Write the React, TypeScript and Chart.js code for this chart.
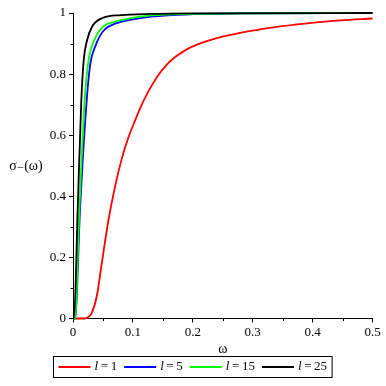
import React, { useEffect, useRef } from "react";
import { Chart, registerables } from "chart.js";

Chart.register(...registerables);

// ---- data ----
const redOmega = [0, 0.01, 0.02, 0.025, 0.031, 0.0396, 0.048, 0.059, 0.07, 0.081, 0.092, 0.104, 0.112, 0.125, 0.14, 0.155, 0.17, 0.19, 0.21, 0.24, 0.279, 0.335, 0.391, 0.446, 0.5];
const redSigma = [0, 0, 0, 0.004, 0.017, 0.072, 0.18, 0.32, 0.43, 0.52, 0.59, 0.65, 0.688, 0.74, 0.79, 0.828, 0.855, 0.881, 0.899, 0.918, 0.935, 0.953, 0.966, 0.976, 0.982];

const blueOmega = [0, 0.0035, 0.0117, 0.0229, 0.029, 0.037, 0.045, 0.054, 0.07, 0.1, 0.13, 0.2, 0.3, 0.5];
const blueSigma = [0, 0, 0.355, 0.715, 0.835, 0.89, 0.925, 0.948, 0.965, 0.979, 0.988, 0.996, 0.999, 1];

const greenOmega = [0, 0.0033, 0.0106, 0.0195, 0.026, 0.0346, 0.0485, 0.07, 0.1, 0.13, 0.2, 0.3, 0.5];
const greenSigma = [0, 0, 0.355, 0.715, 0.846, 0.906, 0.952, 0.972, 0.984, 0.992, 0.997, 0.999, 1];

const blackOmega = [0, 0.0017, 0.0078, 0.0139, 0.0179, 0.0234, 0.0318, 0.0485, 0.08, 0.13, 0.2, 0.5];
const blackSigma = [0, 0, 0.355, 0.715, 0.846, 0.91, 0.955, 0.983, 0.993, 0.997, 0.999, 1];

const seriesNames = ["1", "5", "15", "25"];
const seriesColors = ["#ff0000", "#0000ff", "#00ff00", "#000000"];

const xTickLabels = ["0", "0.1", "0.2", "0.3", "0.4", "0.5"];
const yTickLabels = ["0", "0.2", "0.4", "0.6", "0.8", "1"];
const xMinorTicks = [0.05, 0.15, 0.25, 0.35, 0.45];
const yMinorTicks = [0.1, 0.3, 0.5, 0.7, 0.9];

const xTitle = "ω";
const yTitle = "σ₋(ω)";

const FONT = '"Liberation Serif", "Times New Roman", "DejaVu Serif", serif';

const toPoints = (xs: number[], ys: number[]) => xs.map((x, i) => ({ x, y: ys[i] }));

const decorPlugin = {
  id: "decor",
  afterDraw(chart: any) {
    const ctx = chart.ctx as CanvasRenderingContext2D;
    const xs = chart.scales.x;
    const ys = chart.scales.y;
    ctx.save();
    ctx.strokeStyle = "#000";
    ctx.lineWidth = 1;
    // minor ticks
    for (const v of yMinorTicks) {
      const py = Math.round(ys.getPixelForValue(v)) + 0.5;
      ctx.beginPath();
      ctx.moveTo(xs.left - 2.5, py);
      ctx.lineTo(xs.left, py);
      ctx.stroke();
    }
    for (const v of xMinorTicks) {
      const px = Math.round(xs.getPixelForValue(v)) + 0.5;
      ctx.beginPath();
      ctx.moveTo(px, ys.bottom);
      ctx.lineTo(px, ys.bottom + 2.5);
      ctx.stroke();
    }
    // axis titles
    ctx.fillStyle = "#000";
    ctx.textBaseline = "middle";
    ctx.textAlign = "center";
    ctx.font = `14px ${FONT}`;
    ctx.fillText(yTitle, 26, 166);
    ctx.fillText(xTitle, (xs.left + xs.right) / 2, 349);

    // legend
    const lineLen = 32;
    const gapLineText = 4;
    const gapItems = 7;
    const padX = 5;
    ctx.textAlign = "left";
    const items = seriesNames.map((n) => {
      ctx.font = `italic 13px ${FONT}`;
      const wl = ctx.measureText("l").width;
      ctx.font = `13px ${FONT}`;
      const rest = "\u2009=\u2009" + n;
      const wr = ctx.measureText(rest).width;
      return { rest, wl, wr, w: lineLen + gapLineText + wl + wr };
    });
    const total = items.reduce((s, it) => s + it.w, 0) + gapItems * (items.length - 1) + padX * 2;
    const cx = (xs.left + xs.right) / 2 - 30;
    const boxLeft = Math.round(cx - total / 2) + 0.5;
    const boxTop = 356.5;
    const boxH = 21;
    ctx.strokeStyle = "#000";
    ctx.lineWidth = 1;
    ctx.strokeRect(boxLeft, boxTop, total, boxH);
    const ly = boxTop + boxH / 2;
    let x = boxLeft + padX;
    items.forEach((it, i) => {
      ctx.strokeStyle = seriesColors[i];
      ctx.lineWidth = 1.8;
      ctx.beginPath();
      ctx.moveTo(x, ly);
      ctx.lineTo(x + lineLen, ly);
      ctx.stroke();
      x += lineLen + gapLineText;
      ctx.fillStyle = "#000";
      ctx.font = `italic 13px ${FONT}`;
      ctx.fillText("l", x, ly);
      ctx.font = `13px ${FONT}`;
      ctx.fillText(it.rest, x + it.wl, ly);
      x += it.wl + it.wr + gapItems;
    });
    ctx.restore();
  },
};

export default function App() {
  const canvasRef = useRef<HTMLCanvasElement | null>(null);

  useEffect(() => {
    const canvas = canvasRef.current;
    if (!canvas) return;
    const allOmega = [redOmega, blueOmega, greenOmega, blackOmega];
    const allSigma = [redSigma, blueSigma, greenSigma, blackSigma];
    const chart = new Chart(canvas, {
      type: "line",
      data: {
        datasets: seriesNames.map((n, i) => ({
          label: "l = " + n,
          data: toPoints(allOmega[i], allSigma[i]),
          borderColor: seriesColors[i],
          backgroundColor: seriesColors[i],
          borderWidth: 1.8,
          pointRadius: 0,
          fill: false,
          cubicInterpolationMode: "monotone" as const,
          clip: false as any,
          order: 4 - i,
        })),
      },
      options: {
        animation: false,
        responsive: false,
        maintainAspectRatio: false,
        devicePixelRatio: 1,
        layout: { padding: { left: 0, top: 13, right: 13.5, bottom: 0 } },
        plugins: {
          legend: { display: false },
          tooltip: { enabled: false },
        },
        scales: {
          x: {
            type: "linear",
            min: 0,
            max: 0.5,
            afterFit: (s: any) => {
              s.height = 67.5;
            },
            afterBuildTicks: (s: any) => {
              s.ticks = xTickLabels.map((_, i) => ({ value: i * 0.1 }));
            },
            ticks: {
              color: "#000",
              font: { family: FONT, size: 13 },
              padding: 2,
              maxRotation: 0,
              autoSkip: false,
              callback: (_v: any, i: number) => xTickLabels[i],
            },
            grid: {
              drawOnChartArea: false,
              drawTicks: true,
              tickLength: 4,
              color: "#000",
            },
            border: { display: true, color: "#000", width: 1 },
          },
          y: {
            type: "linear",
            min: 0,
            max: 1,
            afterFit: (s: any) => {
              s.width = 73;
            },
            afterBuildTicks: (s: any) => {
              s.ticks = yTickLabels.map((_, i) => ({ value: i * 0.2 }));
            },
            ticks: {
              color: "#000",
              font: { family: FONT, size: 13 },
              padding: 3,
              autoSkip: false,
              callback: (_v: any, i: number) => yTickLabels[i],
            },
            grid: {
              drawOnChartArea: false,
              drawTicks: true,
              tickLength: 4,
              color: "#000",
            },
            border: { display: true, color: "#000", width: 1 },
          },
        },
      },
      plugins: [decorPlugin],
    });
    return () => chart.destroy();
  }, []);

  return (
    <div style={{ position: "absolute", left: 0, top: 0, width: 386, height: 386, background: "#fff" }}>
      <canvas ref={canvasRef} width={386} height={386} style={{ display: "block" }} />
    </div>
  );
}
